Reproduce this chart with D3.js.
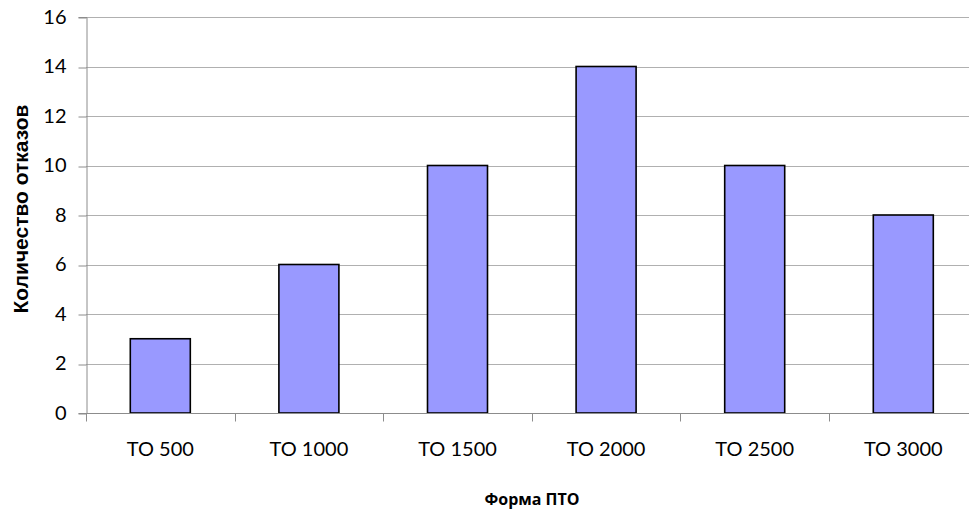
<!DOCTYPE html>
<html>
<head>
<meta charset="utf-8">
<script src="https://cdn.jsdelivr.net/npm/d3@7"></script>
<style>
  html, body { margin: 0; padding: 0; background: #fff; }
  svg { display: block; }
  .tick-label { font-family: Lato, "Open Sans", sans-serif; font-size: 20px; fill: #000; }
  .axis-title { font-family: "Open Sans", "Noto Sans", sans-serif; font-weight: bold; font-size: 16px; fill: #000; }
  .axis-title.y { font-family: "Liberation Sans", Arial, sans-serif; font-size: 21px; }
</style>
</head>
<body>
<script>
// Failures per maintenance form
const categories = ["ТО 500", "ТО 1000", "ТО 1500", "ТО 2000", "ТО 2500", "ТО 3000"];
const failures = [3, 6, 10, 14, 10, 8];
const yTicks = [0, 2, 4, 6, 8, 10, 12, 14, 16];
const xTitle = "Форма ПТО";
const yTitle = "Количество отказов";

const W = 969, H = 510;
const plotLeft = 86, plotTop = 17, plotBottom = 413;
const step = 148.6;
const plotRight = plotLeft + step * categories.length;

const svg = d3.select("body").append("svg")
  .attr("width", W).attr("height", H);

const x = d3.scaleBand().domain(categories).range([plotLeft, plotRight]).padding(0);
const y = d3.scaleLinear().domain([0, 16]).range([plotBottom, plotTop]);

// horizontal gridlines
svg.append("g").selectAll("line").data(yTicks.filter(d => d > 0)).join("line")
  .attr("x1", plotLeft).attr("x2", plotRight)
  .attr("y1", d => Math.round(y(d)) + 0.5).attr("y2", d => Math.round(y(d)) + 0.5)
  .attr("stroke", "#b0b0b0").attr("stroke-width", 1);

// y axis
const yAxis = svg.append("g").attr("transform", `translate(${plotLeft + 0.5},0)`)
  .call(d3.axisLeft(y).tickValues(yTicks).tickSize(8).tickPadding(12));
yAxis.select(".domain").attr("stroke", "#8c8c8c");
yAxis.selectAll(".tick line").attr("stroke", "#8c8c8c")
  .attr("transform", d => `translate(0,${Math.round(y(d)) + 0.5 - y(d)})`);
yAxis.selectAll(".tick text").attr("class", "tick-label").attr("font-family", null).attr("font-size", null);

// bars
const barW = 60;
svg.append("g").selectAll("rect").data(categories).join("rect")
  .attr("x", d => x(d) + x.bandwidth() / 2 - barW / 2)
  .attr("y", (d, i) => y(failures[i]))
  .attr("width", barW)
  .attr("height", (d, i) => y(0) - y(failures[i]))
  .attr("fill", "#9999ff")
  .attr("stroke", "#000").attr("stroke-width", 1.6);

// x axis with ticks on category boundaries
const xg = svg.append("g").attr("transform", `translate(0,${plotBottom + 0.5})`);
xg.append("line").attr("x1", plotLeft).attr("x2", plotRight).attr("stroke", "#8c8c8c");
const bounds = categories.map(c => x(c)).concat([plotRight]);
xg.selectAll("line.tk").data(bounds).join("line").attr("class", "tk")
  .attr("x1", d => Math.round(d) + 0.5).attr("x2", d => Math.round(d) + 0.5)
  .attr("y1", 0).attr("y2", 8).attr("stroke", "#8c8c8c");
xg.selectAll("text").data(categories).join("text")
  .attr("class", "tick-label")
  .attr("x", d => x(d) + x.bandwidth() / 2)
  .attr("y", 42.5)
  .attr("text-anchor", "middle")
  .text(d => d);

// axis titles
svg.append("text").attr("class", "axis-title")
  .attr("x", 532).attr("y", 505).attr("text-anchor", "middle").text(xTitle);
svg.append("text").attr("class", "axis-title y")
  .attr("transform", "translate(28,209) rotate(-90)")
  .attr("text-anchor", "middle").text(yTitle);
</script>
</body>
</html>
